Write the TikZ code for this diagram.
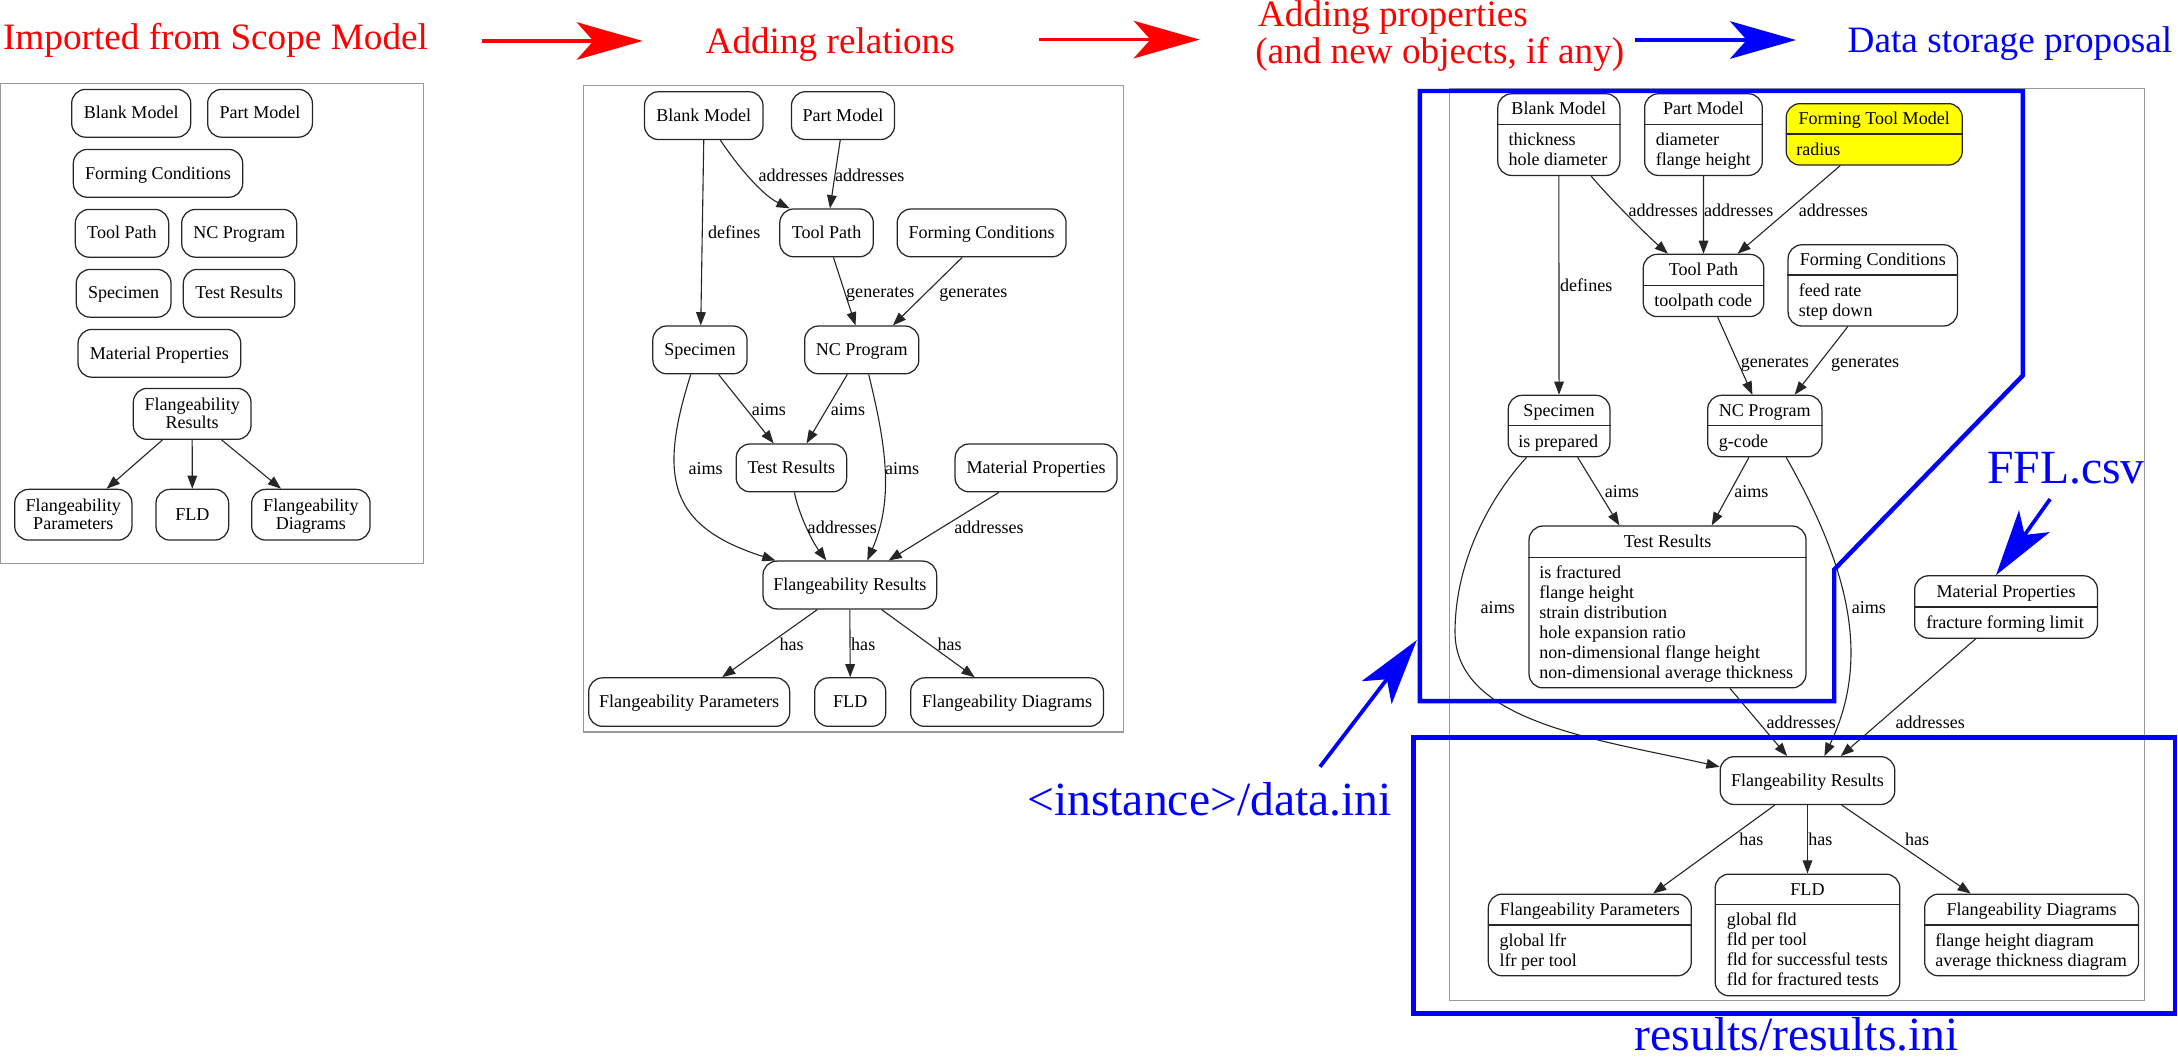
\documentclass[tikz,border=0pt]{standalone}
\usepackage{fontspec}
\setmainfont{Liberation Serif}
\usetikzlibrary{arrows.meta}
\definecolor{rd}{RGB}{255,0,0}
\definecolor{bl}{RGB}{0,0,255}
\definecolor{yl}{RGB}{255,255,0}
\newcommand\fsN{\fontsize{13}{14.4}\selectfont}
\newcommand\fsT{\fontsize{26.8}{30}\selectfont}
\newcommand\fsB{\fontsize{34.3}{40}\selectfont}
\newcommand\recnode[8]{%
  \node[rbox, minimum width=#4pt, minimum height=#5pt] (#1) at (#2,#3) {};
  \draw[rline] (#1.west |- 0,#6) -- (#1.east |- 0,#6);
  \node[ttl] (#1t) at (#2,#7) {#8};}
\newcommand\recitems[4]{%
  \foreach \itx [count=\nn] in {#4} \node[itm] (#1i\nn) at (#2,{#3+(\nn-1)*14.4}) {\itx};}
\begin{document}
\begin{tikzpicture}[x=1pt,y=-1pt,
  nd/.style={draw=black!85, line width=0.9pt, rounded corners=10pt, inner sep=0pt,
    minimum height=34.4pt, text height=9.4pt, text depth=1.2pt, font=\fsN},
  rbox/.style={draw=black!85, line width=0.9pt, rounded corners=10pt, inner sep=0pt},
  rline/.style={draw=black!85, line width=0.9pt},
  ttl/.style={anchor=base, inner sep=0pt, font=\fsN},
  itm/.style={anchor=base west, inner sep=0pt, font=\fsN},
  lab/.style={anchor=base west, inner sep=0pt, font=\fsN},
  cn/.style={draw=black!85, line width=0.8pt, -{Triangle[length=9.5pt,width=7pt]}},
  pnl/.style={draw=black!40, line width=0.9pt},
  blu/.style={draw=bl, line width=3.2pt},
  bigarr/.style={line width=2.7pt, -{Stealth[length=47.5pt,width=27pt,inset=12pt]}},
  rtitle/.style={anchor=base west, inner sep=0pt, font=\fsT, text=rd},
  btitle/.style={anchor=base west, inner sep=0pt, font=\fsT, text=bl},
  blab/.style={anchor=base west, inner sep=0pt, font=\fsB, text=bl}]
\useasboundingbox (0,0) rectangle (1568,763.8);

% ---------- titles ----------
\node[rtitle] (t1) at (2,35.5) {Imported from Scope Model};
\node[rtitle] (t2) at (507.8,38.4) {Adding relations};
\node[rtitle] (t3a) at (905.5,19.2) {Adding properties};
\node[rtitle] (t3b) at (903.5,45.6) {(and new objects, if any)};
\node[btitle] (t4) at (1330,37.7) {Data storage proposal};
\coordinate (ra1s) at (346.8,29.5); \coordinate (ra1e) at (462.7,29.5);
\coordinate (ra2s) at (747.8,28.5); \coordinate (ra2e) at (863.7,28.5);
\coordinate (ba1s) at (1177.1,28.8); \coordinate (ba1e) at (1293,28.8);
\draw[bigarr, color=rd] (ra1s) -- (ra1e);
\draw[bigarr, color=rd] (ra2s) -- (ra2e);
\draw[bigarr, color=bl] (ba1s) -- (ba1e);

% ---------- panel 1 ----------
\draw[pnl] (0.6,60) rectangle (304.8,405.6);
\node[nd, minimum width=85.7pt] (bm1) at (94.45,81.55) {Blank Model};
\node[nd, minimum width=75.4pt] (pm1) at (187.2,81.55) {Part Model};
\node[nd, minimum width=121.9pt] (fc1) at (113.75,124.8) {Forming Conditions};
\node[nd, minimum width=67.2pt] (tp1) at (87.8,167.95) {Tool Path};
\node[nd, minimum width=82.8pt] (nc1) at (172.2,167.95) {NC Program};
\node[nd, minimum width=68.2pt] (sp1) at (89,211.15) {Specimen};
\node[nd, minimum width=80.2pt] (tr1) at (172.1,211.15) {Test Results};
\node[nd, minimum width=117.1pt] (mp1) at (114.75,254.35) {Material Properties};
\node[rbox, minimum width=84.7pt, minimum height=36.7pt] (fr1) at (138.35,297.95) {};
\node[ttl] (fr1a) at (138.35,295.3) {Flangeability};
\node[ttl] (fr1b) at (138.35,308.5) {Results};
\node[rbox, minimum width=84.4pt, minimum height=36.5pt] (fp1) at (52.8,370.55) {};
\node[ttl] (fp1a) at (52.8,367.9) {Flangeability};
\node[ttl] (fp1b) at (52.8,381.1) {Parameters};
\node[nd, minimum width=52.3pt, minimum height=36.5pt] (fld1) at (138.45,370.55) {FLD};
\node[rbox, minimum width=85.2pt, minimum height=36.5pt] (fd1) at (223.8,370.55) {};
\node[ttl] (fd1a) at (223.8,367.9) {Flangeability};
\node[ttl] (fd1b) at (223.8,381.1) {Diagrams};
\draw[cn] ([xshift=-21.45pt]fr1.south) -- ([xshift=24pt]fp1.north);
\draw[cn] (fr1.south) -- (fld1.north);
\draw[cn] ([xshift=21.25pt]fr1.south) -- ([xshift=-21.5pt]fd1.north);

% ---------- panel 2 ----------
\draw[pnl] (420,61.5) rectangle (809,527);
\node[nd, minimum width=85.3pt] (bm2) at (506.65,83.25) {Blank Model};
\node[nd, minimum width=74.2pt] (pm2) at (606.9,83.25) {Part Model};
\node[nd, minimum width=67.3pt] (tp2) at (595.05,167.65) {Tool Path};
\node[nd, minimum width=121.6pt] (fc2) at (706.7,167.65) {Forming Conditions};
\node[nd, minimum width=67.8pt] (sp2) at (503.9,251.9) {Specimen};
\node[nd, minimum width=82.2pt] (nc2) at (620.4,251.9) {NC Program};
\node[nd, minimum width=79.5pt] (tr2) at (569.75,336.85) {Test Results};
\node[nd, minimum width=116.6pt] (mp2) at (745.9,336.85) {Material Properties};
\node[nd, minimum width=125pt] (fr2) at (611.8,421.15) {Flangeability Results};
\node[nd, minimum width=144.7pt, minimum height=34.9pt] (fp2) at (496.15,505.45) {Flangeability Parameters};
\node[nd, minimum width=51.2pt, minimum height=34.9pt] (fld2) at (612.1,505.45) {FLD};
\node[nd, minimum width=138.8pt, minimum height=34.9pt] (fd2) at (725,505.45) {Flangeability Diagrams};

\draw[cn] (bm2.south) -- ([xshift=0.6pt]sp2.north);
\draw[cn] ([xshift=11.95pt]bm2.south) .. controls (530,118) and (548,140) .. ([xshift=-26.55pt]tp2.north);
\draw[cn] ([xshift=-2pt]pm2.south) -- ([xshift=2.45pt]tp2.north);
\draw[cn] ([xshift=4.95pt]tp2.south) -- ([xshift=-4.5pt]nc2.north);
\draw[cn] ([xshift=-14pt]fc2.south) -- ([xshift=22.4pt]nc2.north);
\draw[cn] ([xshift=13.4pt]sp2.south) -- ([xshift=-12.75pt]tr2.north);
\draw[cn] ([xshift=-10.4pt]nc2.south) -- ([xshift=10.85pt]tr2.north);
\draw[cn] ([xshift=-6.6pt]sp2.south) .. controls (473.3,345) and (482.3,379.2) .. ([xshift=-53.5pt]fr2.north);
\draw[cn] ([xshift=5pt]nc2.south) .. controls (637.2,318.2) and (644.2,358.1) .. ([xshift=12.6pt]fr2.north);
\draw[cn] ([xshift=2.15pt]tr2.south) .. controls (575.1,370.7) and (585,390.2) .. ([xshift=-16.9pt]fr2.north);
\draw[cn] ([xshift=-26.8pt]mp2.south) -- ([xshift=27.9pt]fr2.north);
\draw[cn] ([xshift=-23.3pt]fr2.south) -- ([xshift=23.75pt]fp2.north);
\draw[cn] (fr2.south) -- (fld2.north);
\draw[cn] ([xshift=22.8pt]fr2.south) -- ([xshift=-23.3pt]fd2.north);

\node[lab] (l2a) at (509.6,171.6) {defines};
\node[lab] (l2b) at (546,130.7) {addresses};
\node[lab] (l2c) at (601,130.7) {addresses};
\node[lab] (l2d) at (609,214) {generates};
\node[lab] (l2e) at (676,214) {generates};
\node[lab] (l2f) at (541,299) {aims};
\node[lab] (l2g) at (598,299) {aims};
\node[lab] (l2h) at (495.5,341.4) {aims};
\node[lab] (l2i) at (637,341.4) {aims};
\node[lab] (l2j) at (581.3,383.8) {addresses};
\node[lab] (l2k) at (686.9,383.8) {addresses};
\node[lab] (l2l) at (561,468.1) {has};
\node[lab] (l2m) at (612.6,468.1) {has};
\node[lab] (l2n) at (674.8,468.1) {has};

% ---------- panel 3 ----------
\draw[pnl] (1043.6,63.6) rectangle (1544,720.4);
\recnode{bm3}{1122.25}{96.9}{87.9}{58.8}{89.6}{82.75}{Blank Model}
\recitems{bm3}{1085.8}{104.95}{thickness,hole diameter}
\recnode{pm3}{1226.35}{96.9}{84.7}{58.8}{89.6}{82.75}{Part Model}
\recitems{pm3}{1191.9}{104.95}{diameter,flange height}
\node[rbox, fill=yl, minimum width=126.8pt, minimum height=44.2pt] (ftm3) at (1349.3,96.7) {};
\draw[rline] (ftm3.west |- 0,96.4) -- (ftm3.east |- 0,96.4);
\node[ttl] (ftm3t) at (1349.3,89.7) {Forming Tool Model};
\node[itm] (ftm3i1) at (1293,111.8) {radius};
\recnode{tp3}{1226.4}{205.5}{86.8}{44.8}{205.5}{198.5}{Tool Path}
\recitems{tp3}{1190.8}{220.9}{toolpath code}
\recnode{fc3}{1348.25}{205.45}{121.9}{58.5}{198}{191.3}{Forming Conditions}
\recitems{fc3}{1294.8}{213.35}{feed rate,step down}
\recnode{sp3}{1122.4}{306.7}{73.2}{44.2}{306.4}{299.7}{Specimen}
\recitems{sp3}{1092.9}{321.8}{is prepared}
\recnode{nc3}{1270.5}{306.7}{82.2}{44.2}{306.4}{299.7}{NC Program}
\recitems{nc3}{1237.3}{321.8}{g-code}
\recnode{tr3}{1200.5}{436.95}{199.4}{116.5}{401.1}{394.1}{Test Results}
\recitems{tr3}{1108}{416.35}{is fractured,flange height,strain distribution,hole expansion ratio,non-dimensional flange height,non-dimensional average thickness}
\recnode{mp3}{1444.2}{436.95}{131.6}{44.9}{437}{429.95}{Material Properties}
\recitems{mp3}{1386.6}{452.4}{fracture forming limit}
\node[nd, minimum width=125.7pt] (fr3) at (1301.25,561.95) {Flangeability Results};
\recnode{fp3}{1144.55}{673.1}{146.1}{58.8}{666}{659.05}{Flangeability Parameters}
\recitems{fp3}{1079.4}{681.25}{global lfr,lfr per tool}
\recnode{fld3}{1301.25}{673.1}{132.9}{87.6}{651.1}{644.4}{FLD}
\recitems{fld3}{1243}{666.6}{global fld,fld per tool,fld for successful tests,fld for fractured tests}
\recnode{fd3}{1462.6}{673.1}{154}{58.8}{666}{659.05}{Flangeability Diagrams}
\recitems{fd3}{1393.1}{681.25}{flange height diagram,average thickness diagram}

\draw[cn] (bm3.south) -- (sp3.north);
\draw[cn] ([xshift=23.25pt]bm3.south) .. controls (1157.5,141.3) and (1184.8,168.6) .. ([xshift=-25.6pt]tp3.north);
\draw[cn] (pm3.south) -- (tp3.north);
\draw[cn] ([xshift=-24.5pt]ftm3.south) -- ([xshift=24.5pt]tp3.north);
\draw[cn] ([xshift=10.2pt]tp3.south) -- ([xshift=-8.9pt]nc3.north);
\draw[cn] ([xshift=-18pt]fc3.south) -- ([xshift=21.5pt]nc3.north);
\draw[cn] ([xshift=13.4pt]sp3.south) -- ([xshift=-34.7pt]tr3.north);
\draw[cn] ([xshift=-11.4pt]nc3.south) -- ([xshift=31.8pt]tr3.north);
\draw[cn] ([xshift=-23.4pt]sp3.south) .. controls (1072.2,358.4) and (1047.5,405) .. (1047.5,455)
   .. controls (1047.5,520) and (1150.65,532.2) .. ([yshift=9.95pt]fr3.west);
\draw[cn] ([xshift=15.4pt]nc3.south) .. controls (1330,407.1) and (1347.8,472.8) .. ([xshift=12.15pt]fr3.north);
\draw[cn] ([xshift=45pt]tr3.south) -- ([xshift=-14.65pt]fr3.north);
\draw[cn] ([xshift=-21.8pt]mp3.south) -- ([xshift=23.95pt]fr3.north);
\draw[cn] ([xshift=-23.55pt]fr3.south) -- ([xshift=45.55pt]fp3.north);
\draw[cn] (fr3.south) -- (fld3.north);
\draw[cn] ([xshift=24.65pt]fr3.south) -- ([xshift=-43.8pt]fd3.north);

\node[lab] (l3a) at (1123,209.6) {defines};
\node[lab] (l3b) at (1172.3,155.8) {addresses};
\node[lab] (l3c) at (1226.6,155.8) {addresses};
\node[lab] (l3d) at (1294.8,155.8) {addresses};
\node[lab] (l3e) at (1253,264.8) {generates};
\node[lab] (l3f) at (1318,264.8) {generates};
\node[lab] (l3g) at (1155.1,358.3) {aims};
\node[lab] (l3h) at (1248.4,358.3) {aims};
\node[lab] (l3i) at (1065.8,441.9) {aims};
\node[lab] (l3j) at (1333,441.9) {aims};
\node[lab] (l3k) at (1271.6,524.6) {addresses};
\node[lab] (l3l) at (1364.5,524.6) {addresses};
\node[lab] (l3m) at (1252,608.6) {has};
\node[lab] (l3n) at (1301.6,608.6) {has};
\node[lab] (l3o) at (1371.3,608.6) {has};

% ---------- blue annotations ----------
\draw[blu] (1022.2,65.5) -- (1456.3,65.5) -- (1456.3,270.3) -- (1320.5,410) -- (1320.5,504.8) -- (1022.2,504.8) -- cycle;
\draw[blu] (1017.5,530.9) rectangle (1566,729.6);
\node[blab] (b1) at (1430.3,348) {FFL.csv};
\node[blab] (b2) at (739.3,586.8) {<instance>/data.ini};
\node[blab] (b3) at (1176.6,756.5) {results/results.ini};
\coordinate (ba2s) at (1475.9,359.3);
\coordinate (ba3s) at (950.3,552); \coordinate (ba3e) at (1020,460.8);
\draw[bigarr, color=bl] (ba2s) -- ([xshift=-7.2pt]mp3.north);
\draw[bigarr, color=bl] (ba3s) -- (ba3e);
\end{tikzpicture}
\end{document}
